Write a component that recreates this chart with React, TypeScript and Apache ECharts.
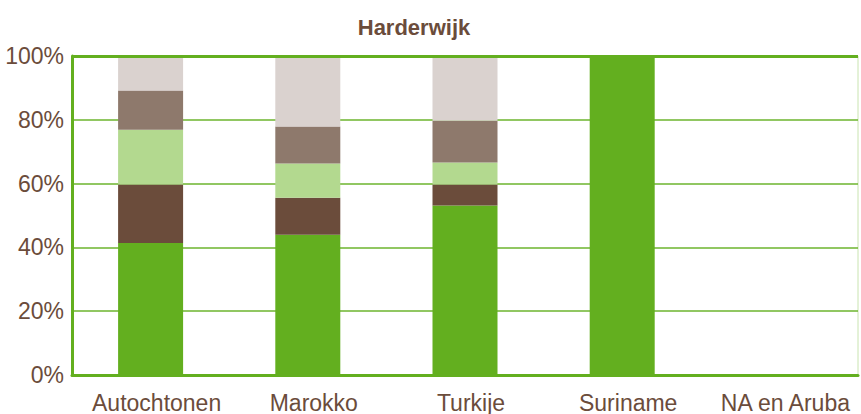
import React, { useEffect, useRef } from "react";
import * as echarts from "echarts";

const categories = ["Autochtonen", "Marokko", "Turkije", "Suriname", "NA en Aruba"];
const seriesNames = ["Cat 1", "Cat 2", "Cat 3", "Cat 4", "Cat 5"];
const s1 = [41.4, 44.0, 53.1, 100, 0];
const s2 = [18.3, 11.6, 6.6, 0, 0];
const s3 = [17.2, 10.7, 6.9, 0, 0];
const s4 = [12.3, 11.6, 13.1, 0, 0];
const s5 = [10.8, 22.1, 20.3, 0, 0];
const colors = ["#63AF1F", "#6B4C3B", "#B3D98F", "#8E796C", "#DAD2CF"];
const yTicks = [0, 20, 40, 60, 80, 100];

export default function App() {
  const ref = useRef<HTMLDivElement>(null);
  useEffect(() => {
    document.body.style.margin = "0";
    if (!ref.current) return;
    const chart = echarts.init(ref.current, null, { renderer: "svg" });
    const font = "'Liberation Sans', Arial, sans-serif";
    const data = [s1, s2, s3, s4, s5];
    chart.setOption({
      animation: false,
      title: {
        text: "Harderwijk",
        left: 409,
        top: 11,
        textAlign: "center",
        textStyle: { color: "#6B4C3B", fontSize: 22, fontWeight: "bold", fontFamily: font },
      },
      grid: {
        left: 72,
        right: 3,
        top: 56,
        bottom: 39,
        show: true,
        borderColor: "#C9E4B0",
        borderWidth: 1,
      },
      xAxis: {
        type: "category",
        data: categories,
        axisLine: { show: true, lineStyle: { color: "#63AF1F", width: 3 } },
        axisTick: { show: false },
        axisLabel: {
          color: "#6B4C3B",
          fontSize: 23,
          fontFamily: font,
          margin: 16,
          interval: 0,
          padding: [0, 0, 0, 12],
        },
      },
      yAxis: {
        type: "value",
        min: 0,
        max: 100,
        interval: 20,
        axisLine: { show: true, lineStyle: { color: "#63AF1F", width: 3 } },
        axisTick: { show: false },
        axisLabel: {
          color: "#6B4C3B",
          fontSize: 23,
          fontFamily: font,
          margin: 8,
          formatter: (v: number) => (yTicks.includes(v) ? v + "%" : ""),
        },
        splitLine: { show: true, lineStyle: { color: "#6DB42E", width: 1.5 } },
      },
      series: data.map((d, i) => ({
        name: seriesNames[i],
        type: "bar",
        stack: "total",
        data: d,
        barWidth: 65,
        itemStyle: { color: colors[i] },
        ...(i === 0
          ? {
              markLine: {
                symbol: "none",
                silent: true,
                label: { show: false },
                lineStyle: { color: "#63AF1F", width: 3, type: "solid" },
                data: [{ yAxis: 100 }],
              },
            }
          : {}),
      })),
    });
    return () => chart.dispose();
  }, []);
  return <div ref={ref} style={{ width: 861, height: 414 }} />;
}
